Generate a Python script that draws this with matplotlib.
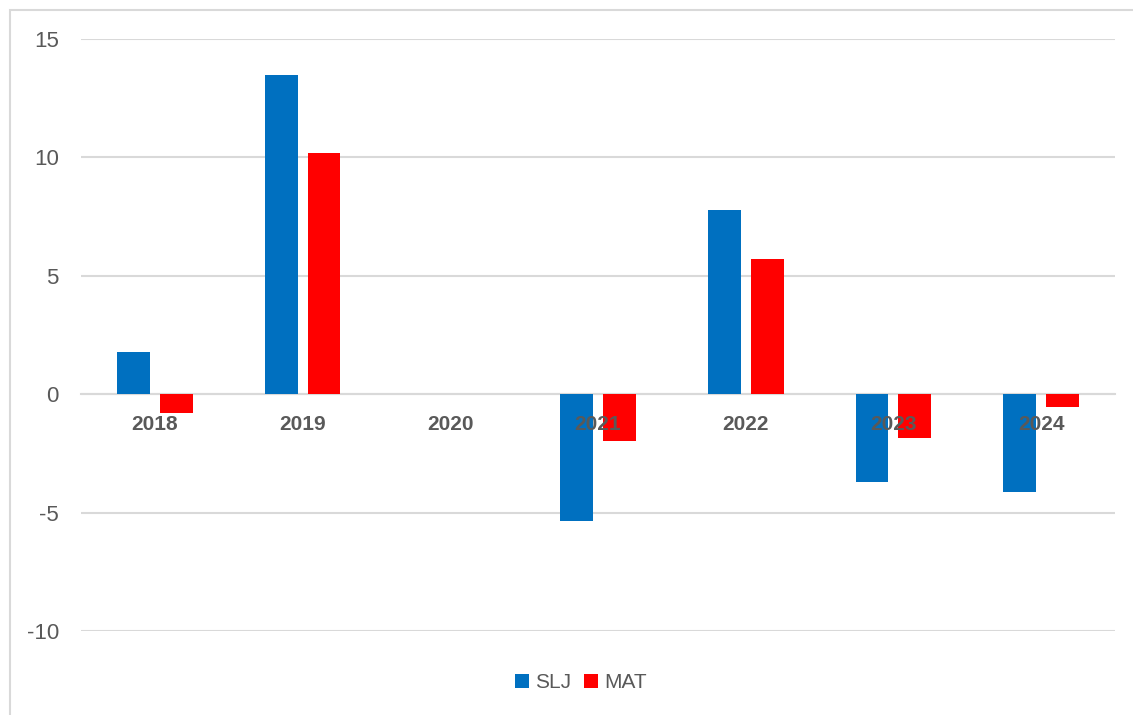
import matplotlib
matplotlib.use("Agg")
import matplotlib.pyplot as plt
import numpy as np
from matplotlib.patches import Rectangle

years = ["2018", "2019", "2020", "2021", "2022", "2023", "2024"]
slj = [1.77, 13.47, 0.0, -5.36, 7.77, -3.72, -4.14]
mat = [-0.80, 10.18, 0.0, -1.98, 5.70, -1.86, -0.55]
series_names = ["SLJ", "MAT"]
colors = ["#0070C0", "#FF0000"]
yticks = [-10, -5, 0, 5, 10, 15]

W, H = 1133, 715
fig = plt.figure(figsize=(W / 100, H / 100), dpi=100)
plt.rcParams['font.family'] = ['Liberation Sans', 'DejaVu Sans']

# outer chart border
fig.patches.append(Rectangle((10 / W, -0.01), 1.05, 1 - 10 / H + 0.01,
                             transform=fig.transFigure, fill=False,
                             edgecolor="#D9D9D9", linewidth=1.5))

left, right = 81 / W, 1115 / W
top, bottom = 1 - 39 / H, 1 - 631 / H
ax = fig.add_axes([left, bottom, right - left, top - bottom])

x = np.arange(len(years))
bw = 0.223
off = 0.145
ax.bar(x - off, slj, width=bw, color=colors[0], label=series_names[0], zorder=3)
ax.bar(x + off, mat, width=bw, color=colors[1], label=series_names[1], zorder=3)

ax.set_xlim(-0.5, len(years) - 0.5)
ax.set_ylim(-10, 15)
ax.set_yticks(yticks)
ax.set_yticklabels([str(v) for v in yticks])
ax.yaxis.grid(True, color="#D9D9D9", linewidth=1.5, zorder=0)
ax.set_axisbelow(True)

for s in ["top", "right", "left"]:
    ax.spines[s].set_visible(False)
ax.spines["bottom"].set_position(("data", 0))
ax.spines["bottom"].set_color("#D9D9D9")
ax.spines["bottom"].set_linewidth(1.5)
ax.spines["bottom"].set_zorder(2)

ax.set_xticks(x)
ax.set_xticklabels([])
ax.tick_params(axis="x", length=0)
for xi, yr in zip(x, years):
    ax.annotate(yr, xy=(xi, 0), xytext=(0, -22), textcoords="offset points",
                ha="center", va="center", fontsize=15, fontweight="bold",
                color="#595959", zorder=6, annotation_clip=False)
ax.tick_params(axis="y", length=0, pad=16, labelsize=16, labelcolor="#595959")

leg = fig.legend(loc="center", bbox_to_anchor=(581 / W, 1 - 683 / H), ncol=2,
                 frameon=False, fontsize=15, handlelength=0.67, handleheight=0.67,
                 handletextpad=0.3, columnspacing=0.6)
for t in leg.get_texts():
    t.set_color("#595959")

fig.savefig("out.png", dpi=100)
